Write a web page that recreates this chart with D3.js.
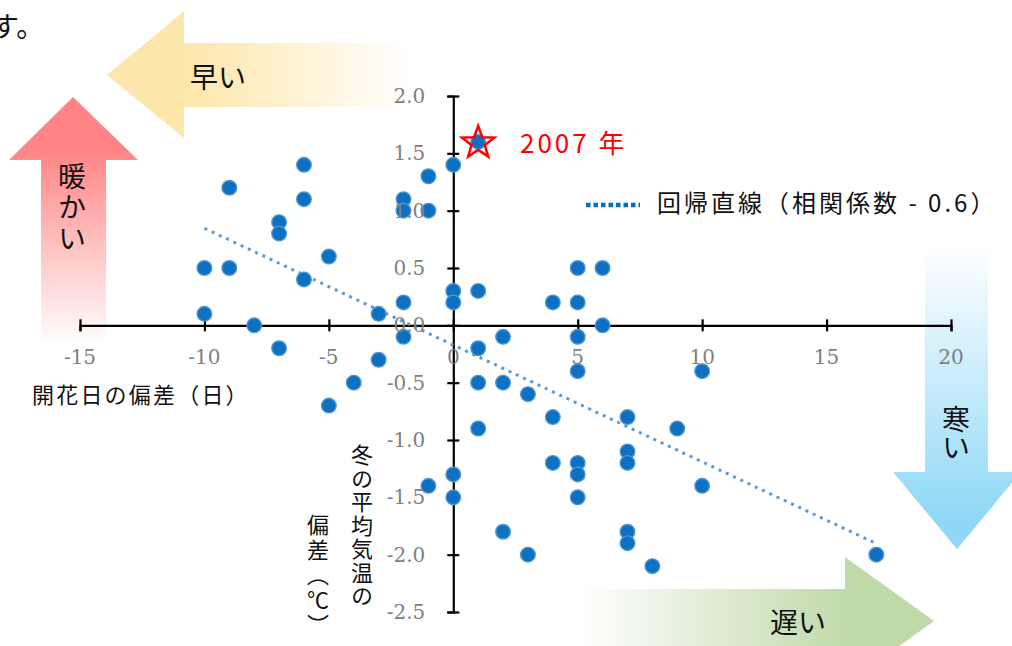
<!DOCTYPE html>
<html>
<head>
<meta charset="utf-8">
<script src="https://cdn.jsdelivr.net/npm/d3@7"></script>
<style>
  body { margin: 0; background: #fff; }
  svg { display: block; }
  .jp { font-family: "Noto Sans CJK JP", sans-serif; }
</style>
</head>
<body>
<svg width="1012" height="646"></svg>
<script>
// bloom date deviation (days) and winter mean temperature deviation (C)
const bloomDev = [
  -10, -10, -9, -9, -8, -7, -7, -7, -6, -6, -6, -5, -5, -4, -3, -3,
  -2, -2, -2, -2, -1, -1, -1, 0, 0, 0, 0, 0, 1, 1, 1, 1, 1,
  2, 2, 2, 3, 3, 4, 4, 4, 5, 5, 5, 5, 5, 5, 5, 6, 6,
  7, 7, 7, 7, 7, 8, 9, 10, 10, 17
];
const winterTempDev = [
  0.5, 0.1, 1.2, 0.5, 0.0, 0.9, 0.8, -0.2, 1.4, 1.1, 0.4, 0.6, -0.7, -0.5, 0.1, -0.3,
  1.1, 1.0, 0.2, -0.1, 1.3, 1.0, -1.4, 1.4, 0.3, 0.2, -1.3, -1.5, 1.6, 0.3, -0.2, -0.5, -0.9,
  -0.1, -0.5, -1.8, -0.6, -2.0, 0.2, -0.8, -1.2, 0.5, 0.2, -0.1, -0.4, -1.2, -1.3, -1.5, 0.5, 0.0,
  -0.8, -1.1, -1.2, -1.8, -1.9, -2.1, -0.9, -0.4, -1.4, -2.0
];
const highlightIdx = 28;           // the 2007 point
const highlightLabel = "2007 年";
const xTicks = [-15, -10, -5, 0, 5, 10, 15, 20];
const yTicks = [-2.5, -2.0, -1.5, -1.0, -0.5, 0.0, 0.5, 1.0, 1.5, 2.0];
const legendLabel = "回帰直線（相関係数 - 0.6）";

const svg = d3.select("svg");
const defs = svg.append("defs");

const x = d3.scaleLinear().domain([-15, 20]).range([80, 951]);
const y = d3.scaleLinear().domain([-2.5, 2]).range([612, 96]);

// gradients for the big arrows
function grad(id, x1, y1, x2, y2, c1, c2) {
  const g = defs.append("linearGradient").attr("id", id)
    .attr("gradientUnits", "userSpaceOnUse")
    .attr("x1", x1).attr("y1", y1).attr("x2", x2).attr("y2", y2);
  g.append("stop").attr("offset", 0).attr("stop-color", c1);
  g.append("stop").attr("offset", 1).attr("stop-color", c2);
}
grad("gYellow", 190, 0, 410, 0, "#fee7ac", "#ffffff");
grad("gRed", 0, 150, 0, 345, "#ff8585", "#ffffff");
grad("gBlue", 0, 245, 0, 520, "#ffffff", "#8ed8f6");
grad("gGreen", 580, 0, 850, 0, "#ffffff", "#bfd9a8");

const arrows = svg.append("g");
arrows.append("polygon").attr("fill", "url(#gYellow)")
  .attr("points", "107,75 184,11 184,43 410,43 410,107 184,107 184,138");
arrows.append("polygon").attr("fill", "url(#gRed)")
  .attr("points", "73,97 138,160 106,160 106,345 41,345 41,160 9,160");
arrows.append("polygon").attr("fill", "url(#gBlue)")
  .attr("points", "925,243 988,243 988,472 1021,472 957,549 893,472 925,472");
arrows.append("polygon").attr("fill", "url(#gGreen)")
  .attr("points", "580,589 845,589 845,557 934,621 845,685 845,653 580,653");

// arrow captions
const jp = svg.append("g").attr("class", "jp").attr("fill", "#111");
jp.append("text").attr("x", 190).attr("y", 78).attr("dy", "0.35em")
  .attr("font-size", 28).text("早い");
jp.append("text").attr("x", 770).attr("y", 623).attr("dy", "0.35em")
  .attr("font-size", 28).text("遅い");
jp.append("text").attr("x", 72).attr("y", 162).attr("font-size", 28)
  .style("writing-mode", "vertical-rl").attr("letter-spacing", 3).text("暖かい");
jp.append("text").attr("x", 956).attr("y", 405).attr("font-size", 28)
  .style("writing-mode", "vertical-rl").text("寒い");
jp.append("text").attr("x", -9).attr("y", 27).attr("dy", "0.35em")
  .attr("font-size", 28).text("す。");

// axes crossing at the origin
const xAxis = svg.append("g")
  .attr("transform", `translate(0,${y(0)})`)
  .call(d3.axisBottom(x).tickValues(xTicks).tickSize(6));
const yAxis = svg.append("g")
  .attr("transform", `translate(${x(0)},0)`)
  .call(d3.axisLeft(y).tickValues(yTicks).tickSize(6));

[xAxis, yAxis].forEach(a => {
  a.select(".domain").attr("stroke", "#000").attr("stroke-width", 2.2);
  a.selectAll(".tick line").attr("stroke", "#000").attr("stroke-width", 2.2);
  a.selectAll(".tick text").remove();
});
xAxis.selectAll(".tick line").attr("y1", -6).attr("y2", 6);
yAxis.selectAll(".tick line").attr("x1", -6).attr("x2", 6);

// regression line computed from the points
const mx = d3.mean(bloomDev), my = d3.mean(winterTempDev);
const sxy = d3.sum(bloomDev, (v, i) => (v - mx) * (winterTempDev[i] - my));
const sxx = d3.sum(bloomDev, v => (v - mx) * (v - mx));
const slope = sxy / sxx, icpt = my - slope * mx;
const xr = d3.extent(bloomDev);
svg.append("path")
  .datum(xr.map(v => [v, icpt + slope * v]))
  .attr("d", d3.line().x(d => x(d[0])).y(d => y(d[1])))
  .attr("fill", "none").attr("stroke", "#5b9bd5")
  .attr("stroke-width", 3).attr("stroke-dasharray", "3 5");

// points
const blur = defs.append("filter").attr("id", "soft")
  .attr("x", "-50%").attr("y", "-50%").attr("width", "200%").attr("height", "200%");
blur.append("feGaussianBlur").attr("stdDeviation", 0.7);

const pts = bloomDev.map((v, i) => ({ x: v, y: winterTempDev[i] }));
svg.append("g").selectAll("circle")
  .data(pts)
  .join("circle")
  .attr("cx", d => x(d.x))
  .attr("cy", d => y(d.y))
  .attr("r", 7.3)
  .attr("fill", "#0a6fc0")
  .attr("stroke", "#4f95d3")
  .attr("stroke-width", 1.4)
  .attr("filter", "url(#soft)");

// 2007 star
const hp = pts[highlightIdx];
const star = d3.range(10).map(k => {
  const r = k % 2 === 0 ? 17 : 7;
  const a = -Math.PI / 2 + k * Math.PI / 5;
  return [x(hp.x) + r * Math.cos(a), y(hp.y) + 1 + r * Math.sin(a)];
});
svg.append("polygon")
  .attr("points", star.map(p => p.join(",")).join(" "))
  .attr("fill", "none").attr("stroke", "#ff0000").attr("stroke-width", 2.5);
svg.append("text").attr("class", "jp")
  .attr("x", 520).attr("y", y(hp.y) + 2).attr("dy", "0.35em")
  .attr("font-size", 26).attr("letter-spacing", 3)
  .attr("fill", "#ff0000").text(highlightLabel);

// tick labels drawn on top of the points (plain hyphen minus)
const tickFont = "'DejaVu Serif', serif";
svg.append("g").selectAll("text")
  .data(xTicks)
  .join("text")
  .attr("x", d => x(d)).attr("y", y(0) + 32).attr("dy", "0.35em")
  .attr("text-anchor", "middle")
  .attr("font-family", tickFont).attr("font-size", 20).attr("fill", "#7f7f7f")
  .text(d => String(d));
svg.append("g").selectAll("text")
  .data(yTicks)
  .join("text")
  .attr("x", x(0) - 28).attr("y", d => y(d)).attr("dy", "0.35em")
  .attr("text-anchor", "end")
  .attr("font-family", tickFont).attr("font-size", 20).attr("fill", "#7f7f7f")
  .text(d => d.toFixed(1));

// axis titles
jp.append("text").attr("x", 32).attr("y", 395).attr("dy", "0.35em")
  .attr("font-size", 22).attr("letter-spacing", 2.2).text("開花日の偏差（日）");
jp.append("text").attr("x", 362).attr("y", 444).attr("font-size", 22)
  .attr("letter-spacing", 1.5)
  .style("writing-mode", "vertical-rl").text("冬の平均気温の");
jp.append("text").attr("x", 318).attr("y", 514).attr("font-size", 22)
  .attr("letter-spacing", 3)
  .style("writing-mode", "vertical-rl").text("偏差（℃）");

// legend
svg.append("line")
  .attr("x1", 586).attr("x2", 640).attr("y1", 205).attr("y2", 205)
  .attr("stroke", "#0070c0").attr("stroke-width", 4.5)
  .attr("stroke-dasharray", "4.5 3");
jp.append("text").attr("x", 657).attr("y", 204).attr("dy", "0.35em")
  .attr("font-size", 24).attr("letter-spacing", 3).text(legendLabel);
</script>
</body>
</html>
